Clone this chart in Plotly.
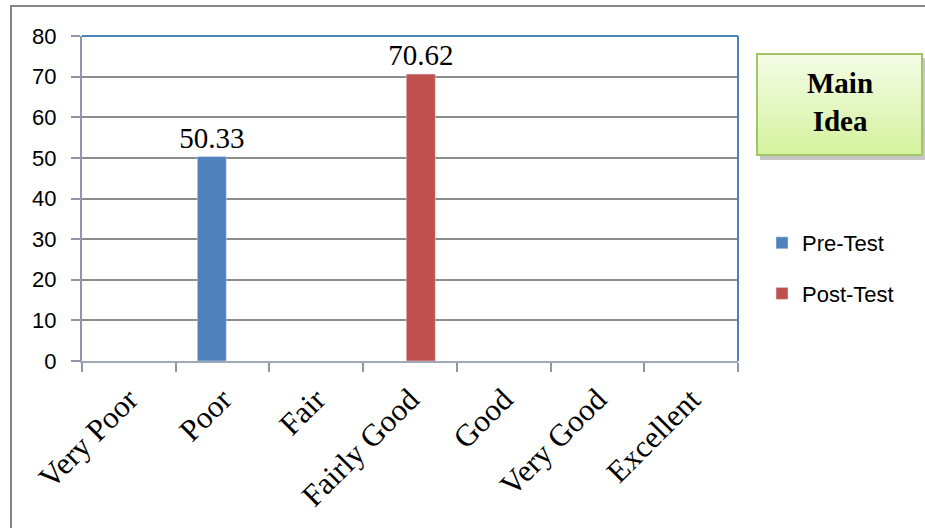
import plotly.graph_objects as go

# Rating categories and mean scores for each test
categories = ["Very Poor", "Poor", "Fair", "Fairly Good", "Good", "Very Good", "Excellent"]
pre_test = [None, 50.33, None, None, None, None, None]
post_test = [None, None, None, 70.62, None, None, None]
y_ticks = [0, 10, 20, 30, 40, 50, 60, 70, 80]

W, H = 925, 528
L, R, T, B = 82, 187, 36, 167
PW, PH = W - L - R, H - T - B


def px(x):
    return (x - L) / PW


def py(y):
    return (H - B - y) / PH


def labels(vals):
    return ["" if v is None else f"{v:.2f}" for v in vals]


fig = go.Figure()
fig.add_trace(go.Bar(
    x=categories, y=pre_test, name="Pre-Test", marker_color="#4f81bd",
    text=labels(pre_test), textposition="outside", constraintext="none",
    textfont=dict(family="Liberation Serif", size=29, color="black"),
    width=0.31, offset=-0.27, legendgroup="a", cliponaxis=False,
))
fig.add_trace(go.Bar(
    x=categories, y=post_test, name="Post-Test", marker_color="#c0504d",
    text=labels(post_test), textposition="outside", constraintext="none",
    textfont=dict(family="Liberation Serif", size=29, color="black"),
    width=0.31, offset=-0.04, legendgroup="b", cliponaxis=False,
))

shapes = []
# outer frame
shapes.append(dict(type="rect", xref="paper", yref="paper",
                   x0=px(11), x1=px(960), y0=py(6), y1=py(560),
                   line=dict(color="#868686", width=2), fillcolor="rgba(0,0,0,0)"))
# plot-area top and right edges
shapes.append(dict(type="line", xref="paper", yref="paper", x0=0, x1=1, y0=1, y1=1,
                   line=dict(color="#4f81bd", width=2)))
shapes.append(dict(type="line", xref="paper", yref="paper", x0=1, x1=1, y0=0, y1=1,
                   line=dict(color="#4f81bd", width=2)))

# "Main Idea" box: shadow, gradient strips, border
bx0, bx1, by0, by1 = 757, 922, 54, 155
shapes.append(dict(type="rect", xref="paper", yref="paper",
                   x0=px(bx0 + 3), x1=px(bx1 + 4), y0=py(by0 + 4), y1=py(by1 + 5),
                   line=dict(width=0), fillcolor="rgba(0,0,0,0.22)"))
n = 24
c_top = (244, 252, 230)
c_bot = (213, 242, 158)
for i in range(n):
    t = i / (n - 1)
    c = tuple(round(a + (b - a) * t) for a, b in zip(c_top, c_bot))
    ya = by0 + (by1 - by0) * i / n
    yb = by0 + (by1 - by0) * (i + 1) / n
    shapes.append(dict(type="rect", xref="paper", yref="paper",
                       x0=px(bx0), x1=px(bx1), y0=py(ya), y1=py(yb + 0.6),
                       line=dict(width=0), fillcolor=f"rgb{c}"))
shapes.append(dict(type="rect", xref="paper", yref="paper",
                   x0=px(bx0), x1=px(bx1), y0=py(by0), y1=py(by1),
                   line=dict(color="#a4c46a", width=2), fillcolor="rgba(0,0,0,0)"))

fig.update_layout(
    width=W, height=H,
    margin=dict(l=L, r=R, t=T, b=B),
    paper_bgcolor="white", plot_bgcolor="white",
    barmode="group",
    showlegend=True,
    legend=dict(
        x=px(762), y=py(222), xanchor="left", yanchor="top",
        font=dict(family="Liberation Sans", size=22, color="black"),
        tracegroupgap=19, traceorder="grouped", bgcolor="rgba(0,0,0,0)",
    ),
    shapes=shapes,
    annotations=[dict(
        xref="paper", yref="paper", x=px((bx0 + bx1) / 2), y=py((by0 + by1) / 2 - 3),
        xanchor="center", yanchor="middle", align="center",
        text="<b>Main<br>Idea</b>", showarrow=False,
        font=dict(family="Liberation Serif", size=29, color="black"),
    )],
    xaxis=dict(
        type="category", tickson="boundaries", ticks="outside", ticklen=9,
        tickcolor="#8d97a8", tickwidth=2, tickangle=-45,
        showline=True, linecolor="#a0a8b8", linewidth=2, showgrid=False,
        tickfont=dict(family="Liberation Serif", size=31, color="black"),
        ticklabelstandoff=6,
    ),
    yaxis=dict(
        range=[0, 80], tickvals=y_ticks, ticks="outside", ticklen=9,
        tickcolor="#8d97a8", tickwidth=2,
        showline=True, linecolor="#8d97a8", linewidth=2,
        showgrid=True, gridcolor="#8c8c8c", gridwidth=2, zeroline=False,
        tickfont=dict(family="Liberation Sans", size=22, color="black"),
        ticklabelstandoff=10,
    ),
)

fig.write_html("out.html")
